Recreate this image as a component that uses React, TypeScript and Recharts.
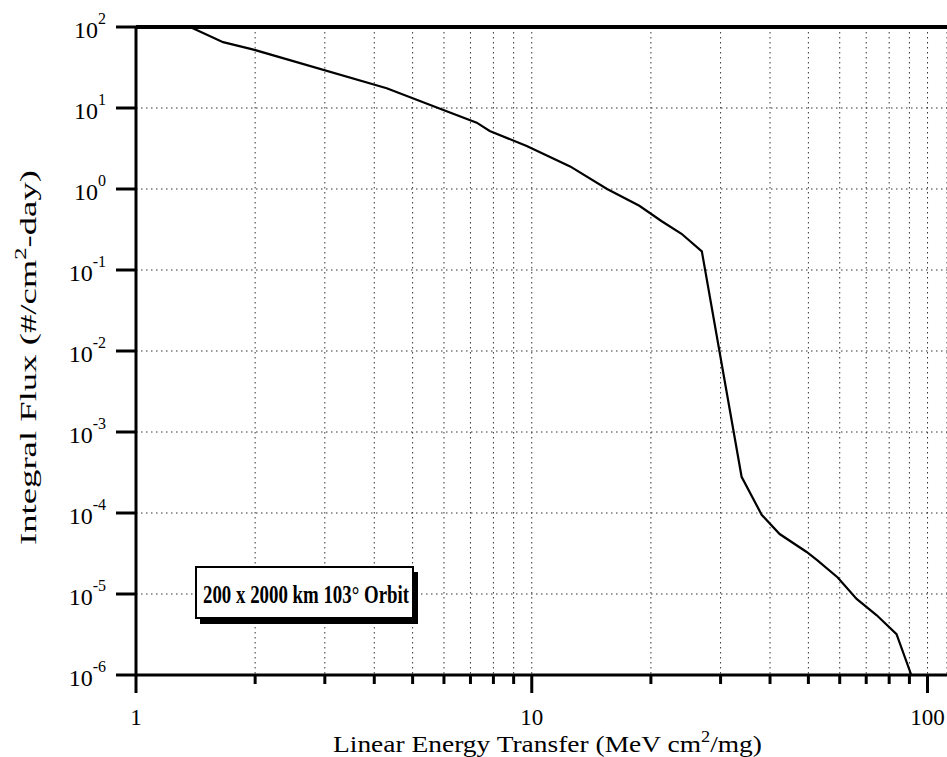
import React from 'react';
import {
  LineChart,
  Line,
  XAxis,
  YAxis,
  CartesianGrid,
  ReferenceLine,
} from 'recharts';

// LET (MeV cm2/mg) vs integral flux (#/cm2-day)
const letValues = [
  1.37, 1.66, 1.97, 4.3, 5.8, 7.26, 7.83, 9.71, 12.5, 15.5, 18.7, 21.3, 23.9, 26.9,
  33.9, 38.1, 42.3, 49.5, 52.7, 59.3, 66.2, 74.3, 83.5, 91,
];
const fluxValues = [
  100, 65, 53, 17.5, 10, 6.6, 5.2, 3.4, 1.9, 1.0, 0.62, 0.4, 0.28, 0.17,
  2.8e-4, 9.5e-5, 5.5e-5, 3.3e-5, 2.6e-5, 1.6e-5, 8.7e-6, 5.5e-6, 3.2e-6, 1.0e-6,
];

const xTicks = [1, 2, 3, 4, 5, 6, 7, 8, 9, 10, 20, 30, 40, 50, 60, 70, 80, 90, 100];
const xMajorLabels = [1, 10, 100];
const yTicks = [1e-6, 1e-5, 1e-4, 1e-3, 1e-2, 1e-1, 1, 10, 100];

const annotation = '200 x 2000 km 103\u00b0 Orbit';

const data = letValues.map((L, i) => ({ L, F: fluxValues[i] }));

const SERIF = '"Liberation Serif", "DejaVu Serif", serif';

const PLOT_TOP = 27;
const X_AXIS_H = 82;
const Y_AXIS_W = 136;

const XTick = (props: any) => {
  const { x, y, payload } = props;
  const major = xMajorLabels.includes(payload.value);
  return (
    <g>
      <path d={`M${x},${y} L${x},${y + (major ? 18 : 9)}`} stroke="#000" strokeWidth={3} fill="none" />
      {major && (
        <text x={x} y={y + 50} textAnchor="middle" fontFamily={SERIF} fontSize={23} fill="#000">
          {payload.value}
        </text>
      )}
    </g>
  );
};

// tickSize is 0, so x is the axis line itself; draw the outward tick as a path
const YTick = (props: any) => {
  const { x, y, payload } = props;
  const exp = Math.round(Math.log10(payload.value));
  return (
    <g>
      <path d={`M${x - 20},${y} L${x + 1},${y}`} stroke="#000" strokeWidth={3} fill="none" />
      <text x={x - 30} y={y + 11} textAnchor="end" fontFamily={SERIF} fontSize={24} fill="#000">
        10
        <tspan dy={-14} fontSize={16}>
          {exp}
        </tspan>
      </text>
    </g>
  );
};

export default function App() {
  return (
    <div style={{ position: 'absolute', left: 0, top: 0, width: 947, height: 757, background: '#fff' }}>
      <LineChart
        width={947}
        height={757}
        data={data}
        margin={{ top: PLOT_TOP, right: 0, left: 0, bottom: 0 }}
      >
        <CartesianGrid stroke="#333" strokeWidth={1} strokeDasharray="1.5 3.5" />
        <XAxis
          dataKey="L"
          type="number"
          scale="log"
          domain={[1, 112]}
          ticks={xTicks}
          interval={0}
          allowDataOverflow
          height={X_AXIS_H}
          stroke="#000"
          strokeWidth={3}
          tickSize={0}
          tickMargin={0}
          tickLine={false}
          tick={<XTick />}
        />
        <YAxis
          type="number"
          scale="log"
          domain={[1e-6, 100]}
          ticks={yTicks}
          interval={0}
          allowDataOverflow
          width={Y_AXIS_W}
          stroke="#000"
          strokeWidth={3}
          tickSize={0}
          tickMargin={0}
          tickLine={false}
          tick={<YTick />}
        />
        <ReferenceLine y={100} stroke="#000" strokeWidth={4} />
        <Line
          dataKey="F"
          type="linear"
          stroke="#000"
          strokeWidth={2.2}
          dot={false}
          isAnimationActive={false}
        />
      </LineChart>

      <svg
        width={947}
        height={757}
        style={{ position: 'absolute', left: 0, top: 0, pointerEvents: 'none' }}
      >
        <text
          x={333}
          y={752}
          textLength={429}
          lengthAdjust="spacingAndGlyphs"
          fontFamily={SERIF}
          fontSize={24}
          fill="#000"
        >
          Linear Energy Transfer (MeV cm
          <tspan dy={-10} fontSize={16}>2</tspan>
          <tspan dy={10}>/mg)</tspan>
        </text>
        <text
          transform="translate(36,545) rotate(-90)"
          textLength={375}
          lengthAdjust="spacingAndGlyphs"
          fontFamily={SERIF}
          fontSize={24}
          fill="#000"
        >
          Integral Flux (#/cm
          <tspan dy={-10} fontSize={16}>2</tspan>
          <tspan dy={10}>-day)</tspan>
        </text>

        <rect x={200} y={572} width={218} height={52} fill="#000" />
        <rect x={196} y={567} width={217} height={51} fill="#fff" stroke="#000" strokeWidth={2} />
        <text
          x={203}
          y={603}
          textLength={206}
          lengthAdjust="spacingAndGlyphs"
          fontFamily={SERIF}
          fontWeight="bold"
          fontSize={26}
          fill="#000"
        >
          {annotation}
        </text>
      </svg>
    </div>
  );
}
